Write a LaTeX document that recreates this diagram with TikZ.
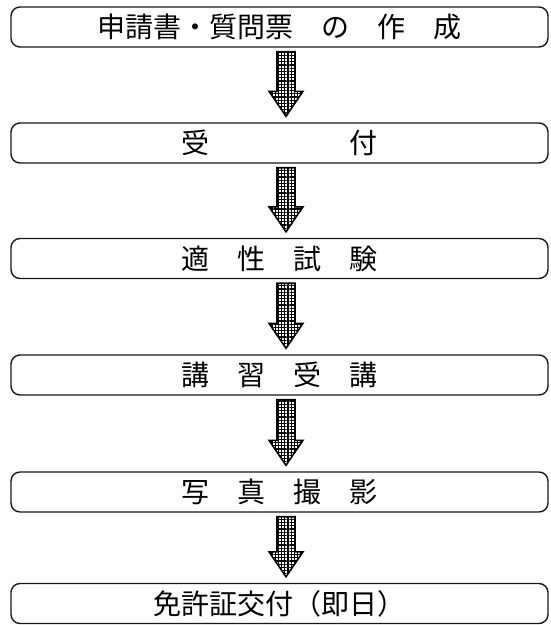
\documentclass[tikz,border=0pt]{standalone}
\usepackage{fontspec}
\newfontfamily\cjk{Noto Sans CJK JP}
\usetikzlibrary{calc,patterns.meta}

\begin{document}
\begin{tikzpicture}[x=1pt,y=-1pt]
   \useasboundingbox (0,0) rectangle (550,625);
   \tikzstyle{stage}=[draw=black!90, line width=1.4pt, rounded corners=9pt,
      minimum width=537, minimum height=40, inner sep=0pt,
      text height=24.6pt, text depth=3.4pt, font=\cjk\fontsize{28}{30}\selectfont]
   \tikzstyle{flow}=[draw=black, line width=1.6pt, line join=miter,
      pattern={Hatch[distance=3.2pt, line width=1.1pt]}]
   % stages of the procedure
   \foreach \i/\y/\txt in {1/27/{申請書・質問票　の　作　成},2/143/{受　　　　　付},
         3/258.5/{適　性　試　験},4/375/{講　習　受　講},5/492/{写　真　撮　影},
         6/603.5/{免許証交付（即日）}} {
       \node[stage] (s\i) at (279.5,\y) {\txt};
   }
   % hatched arrows between the stages
   \foreach \i/\j in {1/2,2/3,3/4,4/5,5/6} {
       \path (s\i.south) ++(6.5,4) coordinate (top\i);
       \path (s\j.north) ++(6.5,-6) coordinate (tip\i);
       \draw[flow] ($(top\i)+(-9,0)$) -- ($(top\i)+(9,0)$) -- ($(tip\i)+(9,-25)$)
          -- ($(tip\i)+(17,-25)$) -- (tip\i) -- ($(tip\i)+(-17,-25)$)
          -- ($(tip\i)+(-9,-25)$) -- cycle;
   }
\end{tikzpicture}
\end{document}
